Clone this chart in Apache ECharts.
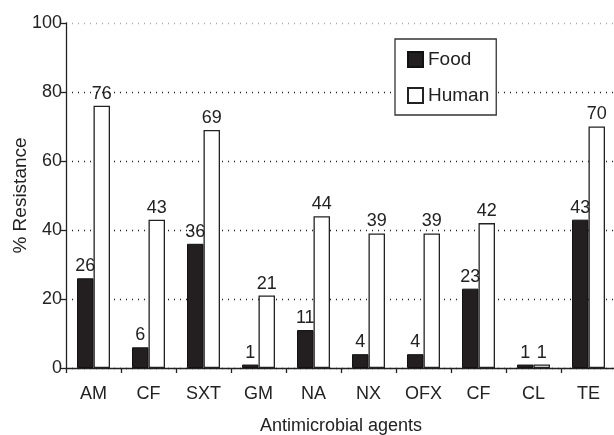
<!DOCTYPE html>
<html><head><meta charset="utf-8">
<script src="https://cdn.jsdelivr.net/npm/echarts@6/dist/echarts.min.js"></script>
<style>html,body{margin:0;padding:0;background:#fff}#c{width:614px;height:435px}</style>
</head><body><div id="c"></div>
<script>
const categories = ['AM','CF','SXT','GM','NA','NX','OFX','CF','CL','TE'];
const food = [26, 6, 36, 1, 11, 4, 4, 23, 1, 43];
const human = [76, 43, 69, 21, 44, 39, 39, 42, 1, 70];
const yTicks = [0, 20, 40, 60, 80, 100];

const chart = echarts.init(document.getElementById('c'), null, {renderer:'canvas'});
const F = 'Liberation Sans, Arial, sans-serif';
const lbl = {show:true, position:'top', distance:3, color:'#222', fontSize:18, fontFamily:F};
chart.setOption({
  animation:false,
  textStyle:{fontFamily:F},
  grid:{left:66, right:-2, top:23, bottom:67, containLabel:false, outerBoundsMode:'none'},
  legend:{
    orient:'vertical', left:395, top:39,
    itemWidth:15, itemHeight:15, itemGap:17, itemTextGap:8,
    borderColor:'#333', borderWidth:1.3, borderRadius:0,
    padding:[11,7,10,12], backgroundColor:'#fff',
    textStyle:{fontSize:19, lineHeight:18, color:'#222', fontFamily:F},
    data:[{name:'Food', icon:'rect'},{name:'Human', icon:'rect'}]
  },
  xAxis:{
    type:'category', data:categories,
    axisLine:{lineStyle:{color:'#222', width:1.3}},
    axisTick:{show:true, length:5, inside:false, lineStyle:{color:'#222', width:1.3}},
    axisLabel:{color:'#222', fontSize:18, margin:17, fontFamily:F},
    name:'Antimicrobial agents', nameLocation:'middle', nameGap:49,
    nameMoveOverlap:false,
    nameTextStyle:{fontSize:18, color:'#222', fontFamily:F}
  },
  yAxis:{
    type:'value', min:0, max:100, interval:20,
    axisLine:{show:true, lineStyle:{color:'#222', width:1.3}},
    axisTick:{show:true, length:5, lineStyle:{color:'#222', width:1.3}},
    axisLabel:{color:'#222', fontSize:18, margin:4, fontFamily:F,
      formatter:v=>yTicks.includes(v)?String(v):''},
    splitLine:{show:true, lineStyle:{type:[1,5], width:1.3,
      color:['#222','#222','#222','#222','#222','#aaa']}},
    name:'% Resistance', nameLocation:'middle', nameGap:36, nameRotate:90,
    nameMoveOverlap:false,
    nameTextStyle:{fontSize:19, color:'#222', fontFamily:F}
  },
  series:[
    {name:'Food', type:'bar', data:food, barWidth:16.5, barGap:'0%',
      itemStyle:{color:'#231f20', borderColor:'#111', borderWidth:1}, label:lbl},
    {name:'Human', type:'bar', data:human, barWidth:16.5,
      itemStyle:{color:'#fff', borderColor:'#222', borderWidth:1.3}, label:lbl}
  ]
});
</script></body></html>
